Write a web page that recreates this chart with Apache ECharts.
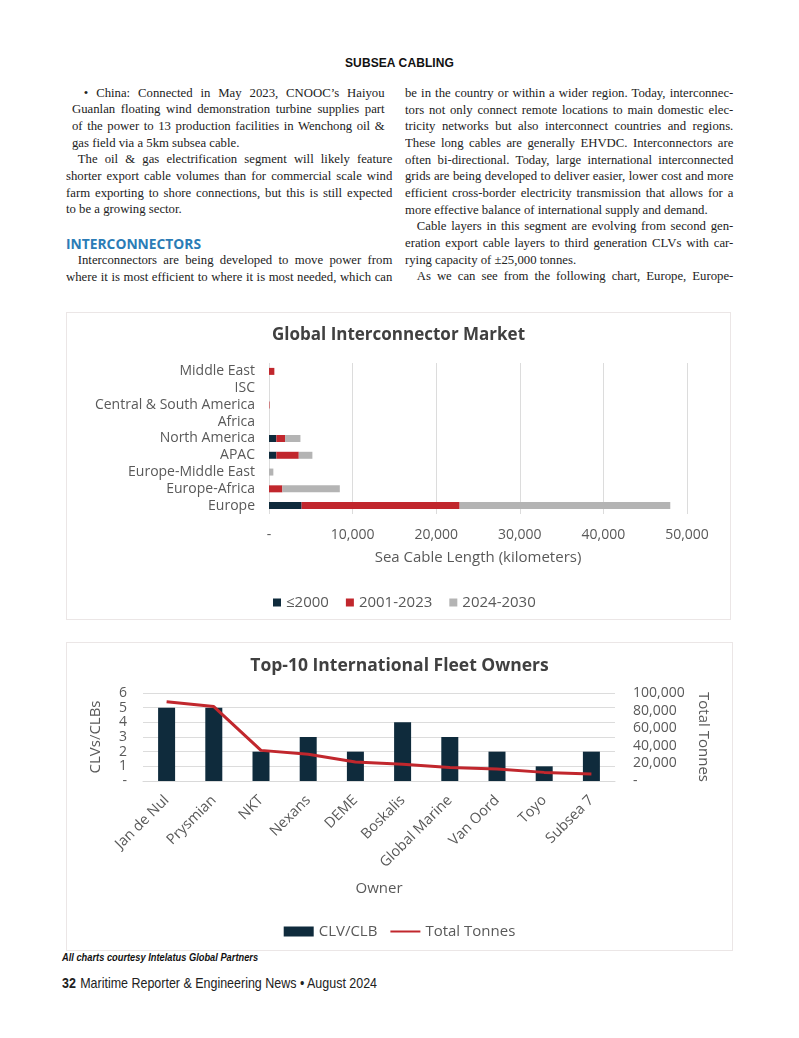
<!DOCTYPE html>
<html>
<head>
<meta charset="utf-8">
<script src="https://cdn.jsdelivr.net/npm/echarts@6/dist/echarts.min.js"></script>
<style>
    body { margin: 0; background: #fff; }
    .page { position: relative; width: 799px; height: 1038px; overflow: hidden; }
    .kicker { position: absolute; left: 0; width: 799px; top: 56px; text-align: center;
        font: bold 12px "Liberation Sans", Arial, sans-serif; color: #111; letter-spacing: 0.1px; }
    .col { position: absolute; transform: scaleX(0.98); transform-origin: left top;
        font: 13px "Liberation Serif", "Times New Roman", serif; color: #222; }
    .col div { height: 16.7px; line-height: 16.7px; text-align: justify; text-align-last: justify; }
    .col div.end { text-align-last: left; }
    .col div.ind { text-indent: 12px; }
    .head { position: absolute; left: 66px; top: 234px; font: bold 13.8px "Open Sans", sans-serif; color: #2b7cb6; }
    .panel { position: absolute; border: 1px solid #ebe6e6; box-sizing: border-box; }
    .note { position: absolute; left: 62px; top: 951px; transform: scaleX(0.86); transform-origin: left top;
        font: italic bold 10.8px "Liberation Sans", Arial, sans-serif; color: #111; white-space: nowrap; }
    .foot { position: absolute; left: 62px; top: 975px; transform: scaleX(0.86); transform-origin: left top;
        font: 14.5px "Liberation Sans", Arial, sans-serif; color: #222; white-space: nowrap; }
    .foot b { margin-right: 5px; }
</style>
</head>
<body>
<div class="page">
    <div class="kicker">SUBSEA CABLING</div>

    <div class="col" style="left:72px;top:84.6px;width:319px;">
        <div class="ind">• China: Connected in May 2023, CNOOC’s Haiyou</div>
        <div>Guanlan floating wind demonstration turbine supplies part</div>
        <div>of the power to 13 production facilities in Wenchong oil &amp;</div>
        <div class="end">gas field via a 5km subsea cable.</div>
    </div>
    <div class="col" style="left:66px;top:151.4px;width:333px;">
        <div class="ind">The oil &amp; gas electrification segment will likely feature</div>
        <div>shorter export cable volumes than for commercial scale wind</div>
        <div>farm exporting to shore connections, but this is still expected</div>
        <div class="end">to be a growing sector.</div>
    </div>
    <div class="head">INTERCONNECTORS</div>
    <div class="col" style="left:66px;top:252px;width:333px;">
        <div class="ind">Interconnectors are being developed to move power from</div>
        <div>where it is most efficient to where it is most needed, which can</div>
    </div>

    <div class="col" style="left:405px;top:84.9px;width:335px;">
        <div>be in the country or within a wider region. Today, interconnec-</div>
        <div>tors not only connect remote locations to main domestic elec-</div>
        <div>tricity networks but also interconnect countries and regions.</div>
        <div>These long cables are generally EHVDC. Interconnectors are</div>
        <div>often bi-directional. Today, large international interconnected</div>
        <div>grids are being developed to deliver easier, lower cost and more</div>
        <div>efficient cross-border electricity transmission that allows for a</div>
        <div class="end">more effective balance of international supply and demand.</div>
        <div class="ind">Cable layers in this segment are evolving from second gen-</div>
        <div>eration export cable layers to third generation CLVs with car-</div>
        <div class="end">rying capacity of ±25,000 tonnes.</div>
        <div class="ind">As we can see from the following chart, Europe, Europe-</div>
    </div>

    <div class="panel" id="market" style="left:66px;top:312px;width:665px;height:308px;"></div>
    <div class="panel" id="fleet" style="left:66px;top:642px;width:667px;height:309px;"></div>

    <div class="note">All charts courtesy Intelatus Global Partners</div>
    <div class="foot"><b>32</b>Maritime Reporter &amp; Engineering News • August 2024</div>
</div>

<script>
// Global Interconnector Market (km), bottom row first
const regions = ['Europe', 'Europe-Africa', 'Europe-Middle East', 'APAC', 'North America',
    'Africa', 'Central & South America', 'ISC', 'Middle East'];
const upTo2000 = [3900, 0, 0, 880, 880, 0, 0, 0, 0];
const from2001to2023 = [18900, 1600, 0, 2680, 1040, 0, 60, 0, 640];
const from2024to2030 = [25200, 6870, 520, 1630, 1840, 0, 0, 0, 0];

// Top-10 International Fleet Owners
const owners = ['Jan de Nul', 'Prysmian', 'NKT', 'Nexans', 'DEME', 'Boskalis',
    'Global Marine', 'Van Oord', 'Toyo', 'Subsea 7'];
const vessels = [5, 5, 2, 3, 2, 4, 3, 2, 1, 2];
const totalTonnes = [90000, 84600, 34800, 30300, 21700, 19100, 15400, 13500, 9800, 7900];

const font = '"Open Sans", sans-serif';
const grey = '#595959';
const fmt = v => v === 0 ? '-' : v.toLocaleString('en-US');

echarts.init(document.getElementById('market')).setOption({
    animation: false,
    textStyle: { fontFamily: font },
    title: {
        text: 'Global Interconnector Market',
        left: 'center', top: 9,
        textStyle: { fontSize: 17, fontWeight: 'bold', color: '#404040', fontFamily: font }
    },
    legend: {
        left: 201, top: 277, icon: 'rect',
        itemWidth: 8, itemHeight: 8, itemGap: 17,
        textStyle: { fontSize: 15, color: grey, fontFamily: font },
        data: ['≤2000', '2001-2023', '2024-2030']
    },
    grid: { left: 202, right: 43, top: 50, bottom: 105 },
    xAxis: {
        type: 'value', min: 0, max: 50000, interval: 10000,
        name: 'Sea Cable Length (kilometers)', nameLocation: 'middle', nameGap: 36,
        nameTextStyle: { fontSize: 15, color: grey },
        axisLine: { show: false }, axisTick: { show: false },
        axisLabel: { fontSize: 14, color: grey, margin: 14, formatter: fmt },
        splitLine: { lineStyle: { color: '#dcdcdc' } }
    },
    yAxis: {
        type: 'category', data: regions,
        axisLine: { show: false }, axisTick: { show: false },
        axisLabel: { fontSize: 14, color: grey, margin: 14, interval: 0 }
    },
    series: [
        { name: '≤2000', type: 'bar', stack: 'km', barWidth: 7, itemStyle: { color: '#0f2b3c' }, data: upTo2000 },
        { name: '2001-2023', type: 'bar', stack: 'km', barWidth: 7, itemStyle: { color: '#c1272d' }, data: from2001to2023 },
        { name: '2024-2030', type: 'bar', stack: 'km', barWidth: 7, itemStyle: { color: '#b4b4b4' }, data: from2024to2030 }
    ]
});

echarts.init(document.getElementById('fleet')).setOption({
    animation: false,
    textStyle: { fontFamily: font },
    title: {
        text: 'Top-10 International Fleet Owners',
        left: 'center', top: 9,
        textStyle: { fontSize: 17.5, fontWeight: 'bold', color: '#404040', fontFamily: font }
    },
    legend: {
        left: 'center', top: 276,
        itemWidth: 30, itemHeight: 10, itemGap: 12,
        textStyle: { fontSize: 15, color: grey, fontFamily: font },
        data: [
            { name: 'CLV/CLB', icon: 'rect' },
            { name: 'Total Tonnes', itemStyle: { opacity: 0 } }
        ]
    },
    grid: { left: 76, right: 117, top: 50, bottom: 169 },
    xAxis: {
        type: 'category', data: owners,
        name: 'Owner', nameLocation: 'middle', nameGap: 100,
        nameTextStyle: { fontSize: 15, color: grey },
        axisLine: { lineStyle: { color: '#d9d9d9' } }, axisTick: { show: false },
        axisLabel: { fontSize: 14.5, color: grey, rotate: 45, margin: 17, interval: 0 }
    },
    yAxis: [
        {
            type: 'value', min: 0, max: 6, interval: 1,
            name: 'CLVs/CLBs', nameLocation: 'middle', nameGap: 40, nameRotate: 90,
            nameTextStyle: { fontSize: 15, color: grey },
            axisLabel: { fontSize: 14, color: grey, margin: 16, formatter: fmt },
            splitLine: { lineStyle: { color: '#dcdcdc' } }
        },
        {
            type: 'value', min: 0, max: 100000, interval: 20000,
            name: 'Total Tonnes', nameLocation: 'middle', nameGap: 78, nameRotate: -90,
            nameTextStyle: { fontSize: 15, color: grey },
            axisLabel: { fontSize: 14, color: grey, margin: 18, formatter: fmt },
            splitLine: { show: false }
        }
    ],
    series: [
        { name: 'CLV/CLB', type: 'bar', barWidth: 17, itemStyle: { color: '#0f2b3c' }, data: vessels },
        {
            name: 'Total Tonnes', type: 'line', yAxisIndex: 1, symbol: 'none',
            lineStyle: { color: '#c1272d', width: 3 }, itemStyle: { color: '#c1272d' },
            data: totalTonnes
        }
    ]
});
</script>
</body>
</html>
